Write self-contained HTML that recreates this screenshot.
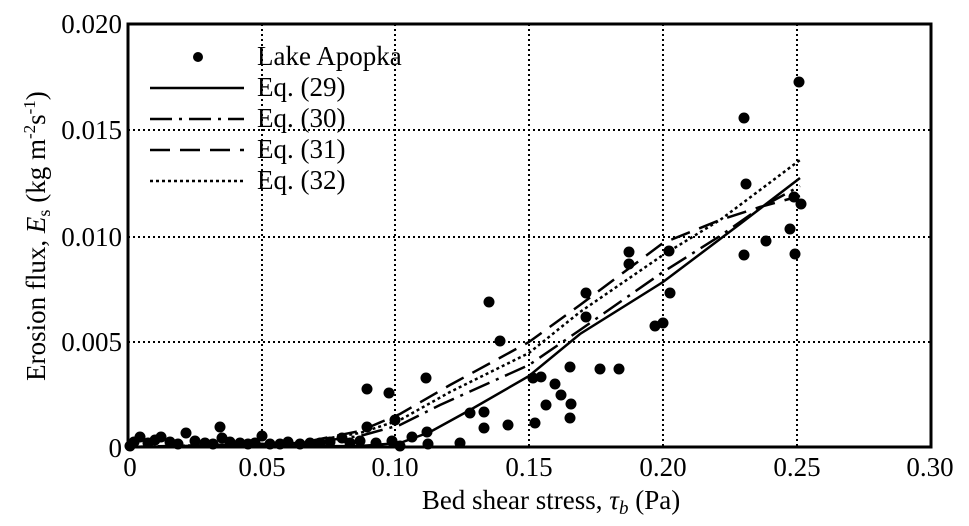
<!DOCTYPE html>
<html><head><meta charset="utf-8"><style>body{margin:0;background:#fff}svg{display:block}text{font-family:"Liberation Serif",serif;font-size:27px;fill:#000}</style></head><body>
<svg width="969" height="526" viewBox="0 0 969 526" xmlns="http://www.w3.org/2000/svg">
<g stroke="#000" stroke-width="2" stroke-dasharray="2,3" fill="none">
<line x1="262" y1="24" x2="262" y2="447"/><line x1="395" y1="24" x2="395" y2="447"/><line x1="529" y1="24" x2="529" y2="447"/><line x1="663" y1="24" x2="663" y2="447"/><line x1="797" y1="24" x2="797" y2="447"/>
<line x1="128" y1="130" x2="931" y2="130"/><line x1="128" y1="237" x2="931" y2="237"/><line x1="128" y1="342" x2="931" y2="342"/>
</g>
<rect x="128" y="24" width="803" height="423" fill="none" stroke="#000" stroke-width="3"/>
<g fill="#000">
<circle cx="130" cy="446" r="5.5"/><circle cx="134" cy="442" r="5.5"/><circle cx="140" cy="437" r="5.5"/><circle cx="148" cy="443" r="5.5"/><circle cx="155" cy="440" r="5.5"/><circle cx="161" cy="437" r="5.5"/><circle cx="170" cy="442" r="5.5"/><circle cx="178" cy="444" r="5.5"/><circle cx="186" cy="433" r="5.5"/><circle cx="195" cy="441" r="5.5"/><circle cx="205" cy="443" r="5.5"/><circle cx="213" cy="444" r="5.5"/><circle cx="220" cy="427" r="5.5"/><circle cx="222" cy="438" r="5.5"/><circle cx="230" cy="442" r="5.5"/><circle cx="240" cy="443" r="5.5"/><circle cx="248" cy="444" r="5.5"/><circle cx="255" cy="443" r="5.5"/><circle cx="262" cy="436" r="5.5"/><circle cx="270" cy="444" r="5.5"/><circle cx="280" cy="444" r="5.5"/><circle cx="288" cy="442" r="5.5"/><circle cx="300" cy="444" r="5.5"/><circle cx="310" cy="443" r="5.5"/><circle cx="320" cy="443" r="5.5"/><circle cx="330" cy="442" r="5.5"/><circle cx="342" cy="438" r="5.5"/><circle cx="350" cy="443" r="5.5"/><circle cx="360" cy="441" r="5.5"/><circle cx="367" cy="389" r="5.5"/><circle cx="367" cy="427" r="5.5"/><circle cx="376" cy="443" r="5.5"/><circle cx="389" cy="393" r="5.5"/><circle cx="392" cy="441" r="5.5"/><circle cx="395" cy="420" r="5.5"/><circle cx="400" cy="446" r="5.5"/><circle cx="412" cy="437" r="5.5"/><circle cx="426" cy="378" r="5.5"/><circle cx="427" cy="432" r="5.5"/><circle cx="428" cy="444" r="5.5"/><circle cx="460" cy="443" r="5.5"/><circle cx="470" cy="413" r="5.5"/><circle cx="484" cy="412" r="5.5"/><circle cx="484" cy="428" r="5.5"/><circle cx="489" cy="302" r="5.5"/><circle cx="500" cy="341" r="5.5"/><circle cx="508" cy="425" r="5.5"/><circle cx="535" cy="423" r="5.5"/><circle cx="533" cy="378" r="5.5"/><circle cx="541" cy="377" r="5.5"/><circle cx="546" cy="405" r="5.5"/><circle cx="555" cy="384" r="5.5"/><circle cx="561" cy="395" r="5.5"/><circle cx="571" cy="404" r="5.5"/><circle cx="570" cy="418" r="5.5"/><circle cx="570" cy="367" r="5.5"/><circle cx="586" cy="293" r="5.5"/><circle cx="586" cy="317" r="5.5"/><circle cx="600" cy="369" r="5.5"/><circle cx="619" cy="369" r="5.5"/><circle cx="629" cy="252" r="5.5"/><circle cx="629" cy="264" r="5.5"/><circle cx="655" cy="326" r="5.5"/><circle cx="663" cy="323" r="5.5"/><circle cx="670" cy="293" r="5.5"/><circle cx="669" cy="251" r="5.5"/><circle cx="744" cy="118" r="5.5"/><circle cx="746" cy="184" r="5.5"/><circle cx="744" cy="255" r="5.5"/><circle cx="766" cy="241" r="5.5"/><circle cx="790" cy="229" r="5.5"/><circle cx="795" cy="254" r="5.5"/><circle cx="799" cy="82" r="5.5"/><circle cx="794" cy="197" r="5.5"/><circle cx="801" cy="204" r="5.5"/>
<circle cx="198" cy="57" r="5"/>
</g>
<g fill="none" stroke="#000" stroke-width="2.5">
<polyline points="128,447 360,446 400,443 430,432 470,410 529,376 580,334 663,282 740,224 800,178"/>
<polyline stroke-dasharray="22,7,3,7" points="128,447 300,444 360,436 400,425 440,405 529,365 580,330 663,272 720,236 760,208 800,186"/>
<polyline stroke-dasharray="20,10" points="128,447 300,443 360,431 400,414 450,385 529,342 580,305 663,243 720,220 760,207 800,196"/>
<polyline stroke-dasharray="3,3" points="128,447 300,443 360,433 400,420 450,392 529,353 580,312 663,255 720,220 800,160"/>
<line x1="150" y1="88" x2="244" y2="88"/>
<line x1="150" y1="119" x2="244" y2="119" stroke-dasharray="22,7,3,7"/>
<line x1="150" y1="150" x2="244" y2="150" stroke-dasharray="20,10"/>
<line x1="150" y1="181" x2="244" y2="181" stroke-dasharray="3,3"/>
</g>
<g font-size="28"><text x="257" y="65">Lake Apopka</text>
<text x="257" y="96">Eq. (29)</text>
<text x="257" y="127">Eq. (30)</text>
<text x="257" y="158">Eq. (31)</text>
<text x="257" y="189">Eq. (32)</text></g>
<g text-anchor="end"><text x="122" y="33">0.020</text><text x="122" y="139">0.015</text><text x="122" y="246">0.010</text><text x="122" y="351">0.005</text><text x="122" y="457">0</text></g>
<g text-anchor="middle"><text x="130" y="476">0</text><text x="262" y="476">0.05</text><text x="395" y="476">0.10</text><text x="529" y="476">0.15</text><text x="663" y="476">0.20</text><text x="797" y="476">0.25</text><text x="930" y="476">0.30</text>
<text x="551" y="509" font-size="29">Bed shear stress, <tspan font-style="italic">τ</tspan><tspan font-style="italic" font-size="19" dy="5">b</tspan><tspan dy="-5"> (Pa)</tspan></text>
<text transform="translate(45,236) rotate(-90)" font-size="27" fill="#201010">Erosion flux, <tspan font-style="italic">E</tspan><tspan font-size="18" dy="5">s</tspan><tspan dy="-5"> (kg m</tspan><tspan font-size="17" dy="-10">-2</tspan><tspan dy="10">s</tspan><tspan font-size="17" dy="-10">-1</tspan><tspan dy="10">)</tspan></text></g>
</svg>
</body></html>
